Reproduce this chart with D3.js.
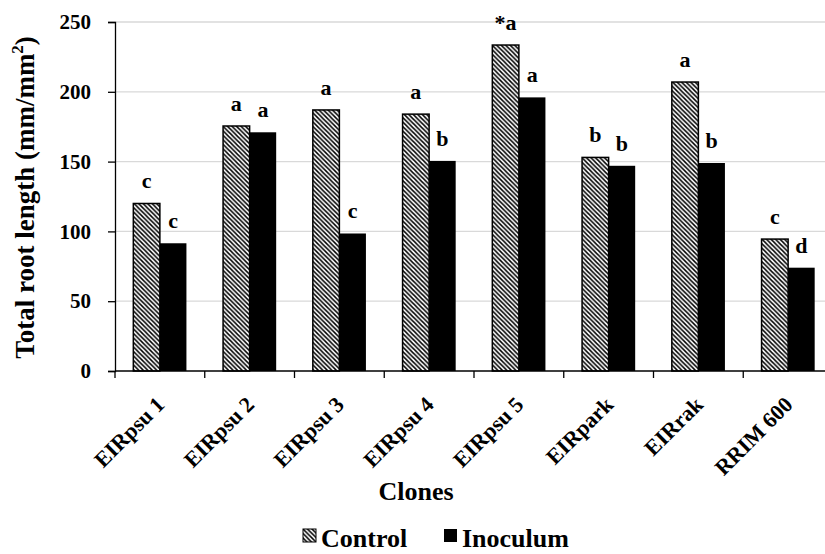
<!DOCTYPE html>
<html>
<head>
<meta charset="utf-8">
<script src="https://cdnjs.cloudflare.com/ajax/libs/d3/7.8.5/d3.min.js"></script>
<style>
  html, body { margin: 0; padding: 0; background: #fff; }
  svg { display: block; font-family: "Liberation Serif", "Times New Roman", serif; font-weight: bold; }
</style>
</head>
<body>
<div id="chart"></div>
<script>
'use strict';

// ─── Data ────────────────────────────────────────────────────────────────────
const clones        = ['EIRpsu 1', 'EIRpsu 2', 'EIRpsu 3', 'EIRpsu 4', 'EIRpsu 5', 'EIRpark', 'EIRrak', 'RRIM 600'];
const controlVals   = [120, 175.5, 187, 184, 233.5, 153, 207, 94.5];
const inoculumVals  = [91.5, 171, 98.5, 150.5, 196, 147, 149, 74];
const controlLetters  = ['c', 'a', 'a', 'a', '*a', 'b', 'a', 'c'];
const inoculumLetters = ['c', 'a', 'c', 'b', 'a', 'b', 'b', 'd'];
const yTicks = [0, 50, 100, 150, 200, 250];

// ─── Layout ──────────────────────────────────────────────────────────────────
const W = 825, H = 554;
const plotL = 115, plotR = 833, plotT = 22, plotB = 371;

const svg = d3.select('#chart').append('svg')
  .attr('width', W)
  .attr('height', H);

// hatch pattern for Control (downward diagonal)
const defs = svg.append('defs');
defs.append('pattern')
  .attr('id', 'hatch')
  .attr('patternUnits', 'userSpaceOnUse')
  .attr('width', 4.5).attr('height', 4.5)
  .call(p => {
    p.append('rect').attr('width', 4.5).attr('height', 4.5).attr('fill', '#fff');
    p.append('path')
      .attr('d', 'M0,0 L4.5,4.5 M-1,3.5 L1,5.5 M3.5,-1 L5.5,1')
      .attr('stroke', '#000')
      .attr('stroke-width', 1.5);
  });

const x = d3.scaleBand().domain(clones).range([plotL, plotR]).padding(0);
const inner = d3.scaleBand().domain(['control', 'inoculum']).range([0, x.bandwidth()]).paddingInner(0).paddingOuter(0.69);
const y = d3.scaleLinear().domain([0, 250]).range([plotB, plotT]);

// gridlines
svg.append('g')
  .selectAll('line')
  .data(yTicks.filter(t => t > 0))
  .join('line')
  .attr('x1', plotL).attr('x2', W)
  .attr('y1', d => y(d)).attr('y2', d => y(d))
  .attr('stroke', '#d9d9d9')
  .attr('stroke-width', 1.3);

// bars
const groups = svg.append('g')
  .selectAll('g')
  .data(clones.map((c, i) => ({ c, control: controlVals[i], inoculum: inoculumVals[i], lc: controlLetters[i], li: inoculumLetters[i] })))
  .join('g')
  .attr('transform', d => `translate(${x(d.c)},0)`);

groups.append('rect')
  .attr('x', inner('control'))
  .attr('y', d => y(d.control))
  .attr('width', inner.bandwidth())
  .attr('height', d => y(0) - y(d.control))
  .attr('fill', 'url(#hatch)')
  .attr('stroke', '#000')
  .attr('stroke-width', 1.5);

groups.append('rect')
  .attr('x', inner('inoculum'))
  .attr('y', d => y(d.inoculum))
  .attr('width', inner.bandwidth())
  .attr('height', d => y(0) - y(d.inoculum))
  .attr('fill', '#000');

// significance letters
groups.append('text')
  .attr('x', inner('control') + inner.bandwidth() / 2)
  .attr('y', d => y(d.control) - 15)
  .attr('text-anchor', 'middle')
  .attr('font-size', 22)
  .text(d => d.lc);

groups.append('text')
  .attr('x', inner('inoculum') + inner.bandwidth() / 2)
  .attr('y', d => y(d.inoculum) - 15)
  .attr('text-anchor', 'middle')
  .attr('font-size', 22)
  .text(d => d.li);

// y axis
const yAxis = svg.append('g')
  .attr('transform', `translate(${plotL},0)`)
  .call(d3.axisLeft(y).tickValues(yTicks).tickSize(7).tickPadding(17));
yAxis.select('.domain').attr('stroke', '#000').attr('stroke-width', 1.3);
yAxis.selectAll('.tick line').attr('stroke', '#000').attr('stroke-width', 1.3);
yAxis.selectAll('.tick text')
  .attr('font-size', 21)
  .attr('font-family', '"Liberation Serif", serif')
  .attr('font-weight', 'bold')
  .attr('fill', '#000');

// x axis
svg.append('line')
  .attr('x1', plotL).attr('x2', W)
  .attr('y1', plotB).attr('y2', plotB)
  .attr('stroke', '#000').attr('stroke-width', 1.3);

svg.append('g')
  .selectAll('line')
  .data(clones)
  .join('line')
  .attr('x1', d => x(d)).attr('x2', d => x(d))
  .attr('y1', plotB).attr('y2', plotB + 7)
  .attr('stroke', '#000').attr('stroke-width', 1.3);

svg.append('g')
  .selectAll('text')
  .data(clones)
  .join('text')
  .attr('transform', d => `translate(${x(d) + x.bandwidth() / 2 + 6},${plotB + 35}) rotate(-45)`)
  .attr('text-anchor', 'end')
  .attr('font-size', 22)
  .text(d => d);

// axis titles
svg.append('text')
  .attr('x', 416).attr('y', 500)
  .attr('text-anchor', 'middle')
  .attr('font-size', 26)
  .text('Clones');

svg.append('text')
  .attr('transform', `translate(34,${(plotT + plotB) / 2 + 1}) rotate(-90)`)
  .attr('text-anchor', 'middle')
  .attr('font-size', 27)
  .call(t => {
    t.append('tspan').text('Total root length (mm/mm');
    t.append('tspan').attr('font-size', 17).attr('dy', -11).text('2');
    t.append('tspan').attr('dy', 11).text(')');
  });

// legend
const legendItems = [
  { label: 'Control', fill: 'url(#hatch)', stroke: '#000', x: 303 },
  { label: 'Inoculum', fill: '#000', stroke: 'none', x: 444 },
];
const lg = svg.append('g')
  .selectAll('g')
  .data(legendItems)
  .join('g')
  .attr('transform', d => `translate(${d.x},529)`);
lg.append('rect')
  .attr('width', 13).attr('height', 13)
  .attr('fill', d => d.fill)
  .attr('stroke', d => d.stroke)
  .attr('stroke-width', 1);
lg.append('text')
  .attr('x', 18).attr('y', 18)
  .attr('font-size', 26)
  .text(d => d.label);
</script>
</body>
</html>
